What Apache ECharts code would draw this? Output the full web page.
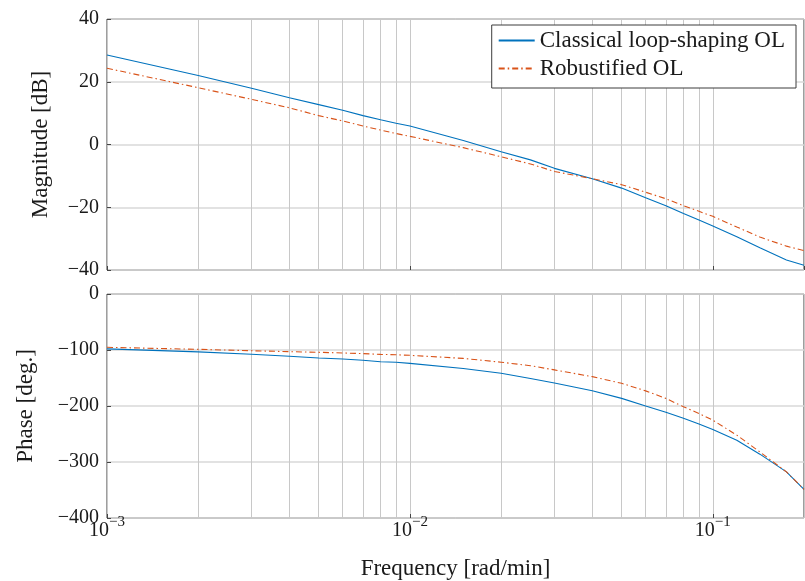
<!DOCTYPE html>
<html><head><meta charset="utf-8">
<script src="https://cdn.jsdelivr.net/npm/echarts@6/dist/echarts.min.js"></script>
<style>html,body{margin:0;padding:0;background:#fff}#c{width:805px;height:581px}</style>
</head><body><div id="c"></div>
<script>
// ---- data ----
const freq = [0.001, 0.002, 0.003, 0.004, 0.005, 0.006, 0.007, 0.008, 0.009, 0.01,
  0.015, 0.02, 0.025, 0.03, 0.04, 0.05, 0.06, 0.07, 0.08, 0.09, 0.1, 0.12, 0.143, 0.175, 0.2];
const magClassical = [28.5, 22.0, 17.9, 14.9, 12.7, 10.9, 9.2, 7.9, 6.8, 5.9,
  1.3, -2.3, -4.9, -7.6, -10.9, -13.9, -17.0, -19.5, -22.0, -24.1, -26.0, -29.4, -32.9, -36.8, -38.5];
const magRobust = [24.3, 18.1, 14.4, 11.7, 9.2, 7.5, 5.9, 4.6, 3.5, 2.6,
  -1.0, -3.9, -6.2, -8.6, -10.9, -12.8, -15.2, -17.3, -19.5, -21.3, -22.9, -26.3, -29.5, -32.4, -33.8];
const phaseClassical = [-98, -103.4, -107.6, -111.2, -114.2, -116, -118.4, -120.9, -122, -123.8,
  -133, -141.5, -151, -159, -172.7, -186.4, -200, -211.3, -222, -232.3, -241.9, -261, -286, -317.6, -349];
const phaseRobust = [-95.2, -98.8, -101.3, -103, -104.1, -105.3, -106.5, -107.8, -108.5, -109.5,
  -115, -121.8, -128, -135.5, -147.6, -159.5, -173, -186.4, -201.4, -213.3, -225.3, -252, -282, -317.6, -349];
const minorFreq = [0.002, 0.003, 0.004, 0.005, 0.006, 0.007, 0.008, 0.009,
  0.02, 0.03, 0.04, 0.05, 0.06, 0.07, 0.08, 0.09];
const seriesNames = ['Classical loop-shaping OL', 'Robustified OL'];
const freqRange = [0.001, 0.2];
const magRange = [-40, 40, 20];
const phaseRange = [-400, 0, 100];

const FONT = 'Liberation Serif';
const TXT = '#1a1a1a';
const GRIDC = '#c8c8c8';
const BLUE = '#0072BD', ORANGE = '#D95319';
const DASHDOT = [6, 3, 1.5, 3];
const pairs = (ys) => freq.map((f, i) => [f, ys[i]]);
const minus = (v) => v < 0 ? '\u2212' + (-v) : String(v);
const sup = (v) => {
  const e = Math.round(Math.log10(v));
  return '{b|10}{s|' + (e < 0 ? '\u2212' + (-e) : e) + '}';
};

function xAxis(gi, showLabels) {
  return {
    type: 'log', logBase: 10, gridIndex: gi, min: freqRange[0], max: freqRange[1],
    axisLine: { show: false, onZero: false },
    axisTick: { show: true, inside: true, length: 4, lineStyle: { color: '#444' } },
    splitLine: { show: true, lineStyle: { color: GRIDC, width: 1 } },
    axisLabel: {
      show: showLabels, margin: -3, showMaxLabel: false, formatter: sup,
      rich: {
        b: { fontFamily: FONT, fontSize: 20, color: TXT, lineHeight: 26, verticalAlign: 'bottom' },
        s: { fontFamily: FONT, fontSize: 15, color: TXT, lineHeight: 15, verticalAlign: 'top' }
      }
    },
    name: showLabels ? 'Frequency [rad/min]' : '',
    nameLocation: 'middle', nameGap: 39,
    nameTextStyle: { fontFamily: FONT, fontSize: 23, color: TXT }
  };
}
function yAxis(gi, r, name, gap) {
  return {
    type: 'value', gridIndex: gi, min: r[0], max: r[1], interval: r[2],
    axisLine: { show: false },
    axisTick: { show: true, inside: true, length: 4, lineStyle: { color: '#444' } },
    splitLine: { show: true, lineStyle: { color: '#d8d8d8', width: 1.5 } },
    axisLabel: { margin: 8, formatter: minus, fontFamily: FONT, fontSize: 20, color: TXT },
    name: name, nameLocation: 'middle', nameGap: gap,
    nameTextStyle: { fontFamily: FONT, fontSize: 23, color: TXT }
  };
}
function minorGrid(gi, r) {
  return {
    type: 'lines', coordinateSystem: 'cartesian2d', xAxisIndex: gi, yAxisIndex: gi,
    silent: true, z: 1, polyline: false,
    lineStyle: { color: GRIDC, width: 1, opacity: 1, type: 'solid' },
    data: minorFreq.map(f => ({ coords: [[f, r[0]], [f, r[1]]] }))
  };
}
function curve(gi, name, ys, color, dash) {
  return {
    name: name, type: 'line', xAxisIndex: gi, yAxisIndex: gi, data: pairs(ys),
    symbol: 'none', z: 5, smooth: false,
    lineStyle: { color: color, width: 1.1, type: dash || 'solid' },
    itemStyle: { color: color }
  };
}

const chart = echarts.init(document.getElementById('c'), null, { renderer: 'canvas' });
chart.setOption({
  animation: false,
  backgroundColor: '#fff',
  grid: [
    { left: 107, top: 19, width: 697, height: 251, show: true, borderColor: '#3c3c3c', borderWidth: 1, backgroundColor: 'transparent' },
    { left: 107, top: 294, width: 697, height: 224, show: true, borderColor: '#3c3c3c', borderWidth: 1, backgroundColor: 'transparent' }
  ],
  xAxis: [xAxis(0, false), xAxis(1, true)],
  yAxis: [yAxis(0, magRange, 'Magnitude [dB]', 55), yAxis(1, phaseRange, 'Phase [deg.]', 70)],
  legend: {
    data: seriesNames, orient: 'vertical', right: 9, top: 25, z: 20,
    backgroundColor: '#fff', borderColor: '#3c3c3c', borderWidth: 1,
    padding: [4, 11, 8, 6], itemGap: 5, itemWidth: 36, itemHeight: 14,
    itemStyle: { opacity: 0 },
    textStyle: { fontFamily: FONT, fontSize: 23, color: TXT, lineHeight: 22 }
  },
  series: [
    minorGrid(0, magRange), minorGrid(1, phaseRange),
    curve(0, seriesNames[0], magClassical, BLUE),
    curve(0, seriesNames[1], magRobust, ORANGE, DASHDOT),
    curve(1, seriesNames[0], phaseClassical, BLUE),
    curve(1, seriesNames[1], phaseRobust, ORANGE, DASHDOT)
  ]
});
</script></body></html>
